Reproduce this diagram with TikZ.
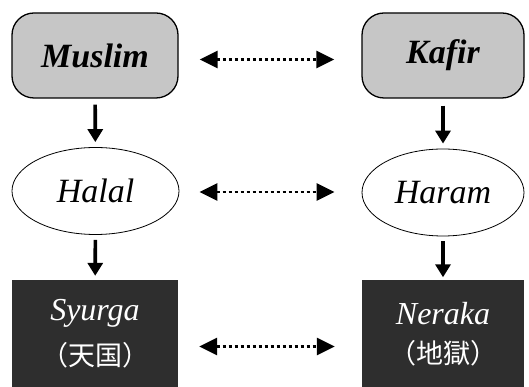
\documentclass[tikz,border=0pt]{standalone}
\usepackage{fontspec}
\setmainfont{Liberation Serif}
\newfontfamily\cjk{Noto Sans CJK JP}
\usetikzlibrary{shapes.geometric,arrows.meta,calc}
\definecolor{boxgray}{HTML}{C6C6C6}
\definecolor{boxdark}{HTML}{2E2E2E}
\begin{document}
\begin{tikzpicture}[x=1pt,y=1pt,
  lbl/.style={font=\fontsize{34}{38}\selectfont\itshape},
  faith/.style={lbl, font=\fontsize{34}{38}\selectfont\bfseries\itshape,
    draw=black, line width=1.3pt, fill=boxgray, rounded corners=22pt,
    minimum width=166pt, minimum height=85pt, inner sep=0pt},
  ruling/.style={lbl, draw=black, line width=0.8pt, fill=white, ellipse,
    minimum width=167pt, minimum height=87pt, inner sep=0pt},
  fate/.style={fill=boxdark, minimum width=166pt, minimum height=107pt,
    inner sep=0pt, text=white, align=center},
  down/.style={line width=3.6pt,
    -{Triangle[width=15pt,length=13pt]}},
  link/.style={line width=2.8pt, dash pattern=on 3.5pt off 2.5pt,
    {Triangle[width=17pt,length=18pt]}-{Triangle[width=17pt,length=18pt]}}]
  \useasboundingbox (0,0) rectangle (529,387);

  % top row: the believer and the unbeliever
  \node[faith] (muslim) at (95,331.5) {Muslim};
  \node[faith, minimum width=162pt] (kafir) at (443,331.5) {Kafir};

  % middle row: permitted and forbidden
  \node[ruling] (halal) at (95.5,196) {Halal};
  \node[ruling, minimum width=162pt] (haram) at (443,194.5) {Haram};

  % bottom row: the two destinations
  \node[fate] (syurga) at (95,53.5)
    {\fontsize{32}{32}\selectfont\itshape Syurga\\[14pt]
     {\cjk\fontsize{27}{27}\selectfont （天国）}};
  \node[fate, minimum width=162pt] (neraka) at (443,53)
    {\fontsize{32}{32}\selectfont\itshape Neraka\\[14pt]
     {\cjk\fontsize{27}{27}\selectfont （地獄）}};

  % consequences
  \draw[down, shorten <=6pt, shorten >=5pt] (muslim) -- (halal);
  \draw[down, shorten <=7pt, shorten >=5pt] (kafir) -- (haram);
  \draw[down, shorten <=5pt, shorten >=4pt] (halal) -- (syurga);
  \draw[down, shorten <=5pt, shorten >=3pt] (haram) -- (neraka);

  % opposites
  \draw[link, shorten <=21pt, shorten >=27pt]
    ([yshift=-4pt]muslim.east) -- ([yshift=-4pt]kafir.west);
  \draw[link, shorten <=20pt, shorten >=27pt]
    ([yshift=-1pt]halal.east) -- ([yshift=0.5pt]haram.west);
  \draw[link, shorten <=21pt, shorten >=27pt]
    ([yshift=-13pt]syurga.east) -- ([yshift=-12.5pt]neraka.west);
\end{tikzpicture}
\end{document}
